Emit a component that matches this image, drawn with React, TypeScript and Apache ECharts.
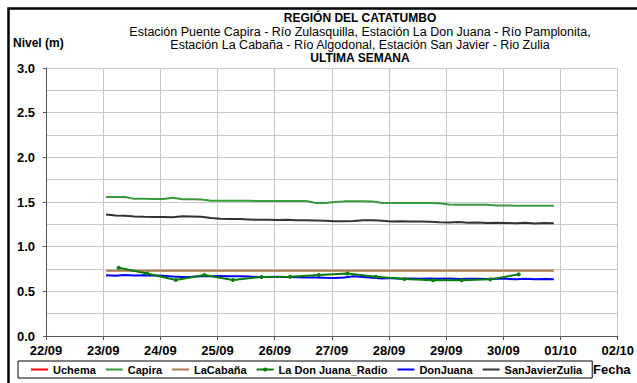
import React, { useEffect, useRef } from "react";
import * as echarts from "echarts";

// x values are days counted from 22/09 00:00
const tickLabels = ["22/09", "23/09", "24/09", "25/09", "26/09", "27/09", "28/09", "29/09", "30/09", "01/10", "02/10"];
const seriesNames = ["Uchema", "Capira", "LaCabaña", "La Don Juana_Radio", "DonJuana", "SanJavierZulia"];
const seriesColors = ["#ff0000", "#3a9a3a", "#a97a4a", "#0a7d0a", "#0000ff", "#333333"];

// 4-hour readings starting 23/09 01:12
const gridStart = 1.05;
const gridStep = 1 / 6;
const capira = [
  1.555, 1.555, 1.555, 1.535, 1.535, 1.533, 1.533, 1.548,
  1.53, 1.53, 1.528, 1.515, 1.515, 1.515, 1.513, 1.513,
  1.51, 1.51, 1.51, 1.51, 1.51, 1.51, 1.49, 1.49,
  1.5, 1.507, 1.507, 1.507, 1.505, 1.489, 1.489, 1.489,
  1.489, 1.489, 1.489, 1.485, 1.472, 1.47, 1.47, 1.47,
  1.47, 1.46, 1.46, 1.459, 1.459, 1.459, 1.459, 1.459,
];
const sanJavier = [
  1.36, 1.35, 1.345, 1.338, 1.335, 1.333, 1.332, 1.33,
  1.34, 1.338, 1.335, 1.322, 1.313, 1.31, 1.31, 1.305,
  1.3, 1.302, 1.298, 1.3, 1.296, 1.295, 1.293, 1.29,
  1.285, 1.284, 1.286, 1.295, 1.295, 1.29, 1.283, 1.285,
  1.282, 1.283, 1.28, 1.272, 1.27, 1.275, 1.268, 1.27,
  1.266, 1.268, 1.265, 1.262, 1.268, 1.26, 1.266, 1.263,
];
const donJuana = [
  0.68, 0.675, 0.682, 0.676, 0.68, 0.678, 0.674, 0.665,
  0.66, 0.662, 0.668, 0.67, 0.672, 0.668, 0.67, 0.665,
  0.66, 0.66, 0.662, 0.66, 0.658, 0.655, 0.656, 0.652,
  0.65, 0.655, 0.668, 0.66, 0.652, 0.645, 0.648, 0.642,
  0.645, 0.64, 0.644, 0.64, 0.643, 0.638, 0.642, 0.64,
  0.638, 0.642, 0.64, 0.636, 0.64, 0.635, 0.638, 0.636,
];
const laCabana = [
  0.73, 0.73, 0.73, 0.73, 0.73, 0.73, 0.73, 0.73,
  0.73, 0.73, 0.73, 0.73, 0.73, 0.73, 0.73, 0.73,
  0.73, 0.73, 0.73, 0.73, 0.73, 0.73, 0.73, 0.73,
  0.73, 0.73, 0.73, 0.73, 0.73, 0.73, 0.73, 0.73,
  0.73, 0.73, 0.73, 0.73, 0.73, 0.73, 0.73, 0.73,
  0.73, 0.73, 0.73, 0.73, 0.73, 0.73, 0.73, 0.73,
];
const uchema: number[] = [];

// 12-hour radio readings starting 23/09 06:30
const radioStart = 1.27;
const radioStep = 0.5;
const radio = [0.765, 0.7, 0.627, 0.683, 0.627, 0.66, 0.664, 0.683, 0.7, 0.664, 0.638, 0.624, 0.624, 0.634, 0.69];

const titleLines = [
  "REGIÓN DEL CATATUMBO",
  "Estación Puente Capira - Río Zulasquilla, Estación La Don Juana - Río Pamplonita,",
  "Estación La Cabaña - Río Algodonal, Estación San Javier - Rio Zulia",
  "ULTIMA SEMANA",
];

const toPairs = (vals: number[], start: number, step: number) => vals.map((v, i) => [start + i * step, v]);

const FONT = "'Liberation Sans', Arial, sans-serif";

export default function App() {
  const ref = useRef<HTMLDivElement>(null);
  useEffect(() => {
    if (!ref.current) return;
    const chart = echarts.init(ref.current, undefined, { renderer: "svg" });
    const datas = [
      toPairs(uchema, gridStart, gridStep),
      toPairs(capira, gridStart, gridStep),
      toPairs(laCabana, gridStart, gridStep),
      toPairs(radio, radioStart, radioStep),
      toPairs(donJuana, gridStart, gridStep),
      toPairs(sanJavier, gridStart, gridStep),
    ];
    const series = seriesNames.map((name, i) => ({
      name,
      type: "line",
      data: datas[i],
      symbol: i === 3 ? "circle" : "none",
      symbolSize: 4,
      showSymbol: i === 3,
      lineStyle: { color: seriesColors[i], width: 2 },
      itemStyle: { color: seriesColors[i] },
      z: i === 3 ? 5 : 3,
    }));
    const textStyle = { fontFamily: FONT, fontSize: 12.5, fill: "#000" };
    const titleY = [18, 32, 45, 58];
    const boldRich = { b: { fontFamily: FONT, fontWeight: "bold", fontSize: 13, color: "#000" } };
    chart.setOption({
      animation: false,
      backgroundColor: "#fff",
      textStyle: { fontFamily: FONT, fontWeight: "bold", color: "#000" },
      grid: { left: 46, right: 18, top: 68, bottom: 47 },
      xAxis: {
        type: "value",
        min: 0,
        max: 10,
        interval: 1,
        axisLine: { show: true, onZero: false, lineStyle: { color: "#555", width: 1 } },
        axisTick: { show: true, length: 4, lineStyle: { color: "#555" } },
        axisLabel: {
          fontFamily: FONT,
          fontWeight: "bold",
          fontSize: 13,
          color: "#000",
          margin: 8,
          rich: boldRich,
          formatter: (v: number) => `{b|${tickLabels[Math.round(v)] ?? ""}}`,
        },
        splitLine: { show: true, lineStyle: { color: "#c8c8c8", width: 1 } },
      },
      yAxis: {
        type: "value",
        min: 0,
        max: 3,
        interval: 0.5,
        axisLine: { show: true, lineStyle: { color: "#555", width: 1 } },
        axisTick: { show: true, length: 3, lineStyle: { color: "#555" } },
        axisLabel: {
          fontFamily: FONT,
          fontWeight: "bold",
          fontSize: 13,
          color: "#000",
          margin: 11,
          rich: boldRich,
          formatter: (v: number) => `{b|${v.toFixed(1)}}`,
        },
        splitLine: { show: true, lineStyle: { color: "#c8c8c8", width: 1 } },
        minorTick: { show: false, splitNumber: 2 },
        minorSplitLine: { show: true, lineStyle: { color: "#c8c8c8", width: 1 } },
      },
      legend: {
        left: 18,
        top: 361,
        orient: "horizontal",
        padding: [3, 10, 3, 12],
        itemGap: 9,
        itemWidth: 17,
        itemHeight: 5,
        borderColor: "#000",
        borderWidth: 1,
        borderRadius: 0,
        textStyle: { fontFamily: FONT, fontWeight: "bold", fontSize: 11, color: "#000" },
        data: seriesNames.map((name, i) => (i === 3 ? { name } : { name, itemStyle: { opacity: 0 } })),
      },
      graphic: [
        { type: "rect", left: 6, top: 6, shape: { x: 0, y: 0, width: 700, height: 400 }, style: { fill: "none", stroke: "#000", lineWidth: 2.5 }, silent: true, z: 100 },
        ...titleLines.map((t, i) => ({
          type: "text",
          x: 360,
          y: titleY[i],
          style: {
            ...textStyle,
            text: t,
            fontSize: i === 0 || i === 3 ? 12 : 12.5,
            fontWeight: i === 0 || i === 3 ? "bold" : "normal",
            textAlign: "center",
            textVerticalAlign: "middle",
          },
        })),
        { type: "text", x: 13, y: 43, style: { ...textStyle, fontSize: 12, text: "Nivel (m)", fontWeight: "bold", textVerticalAlign: "middle" } },
        { type: "text", x: 593, y: 369, style: { ...textStyle, fontSize: 13, text: "Fecha", fontWeight: "bold", textVerticalAlign: "middle" } },
      ],
      series,
    });
    return () => chart.dispose();
  }, []);
  return <div ref={ref} style={{ position: "absolute", left: 0, top: 0, width: 637, height: 383 }} />;
}
